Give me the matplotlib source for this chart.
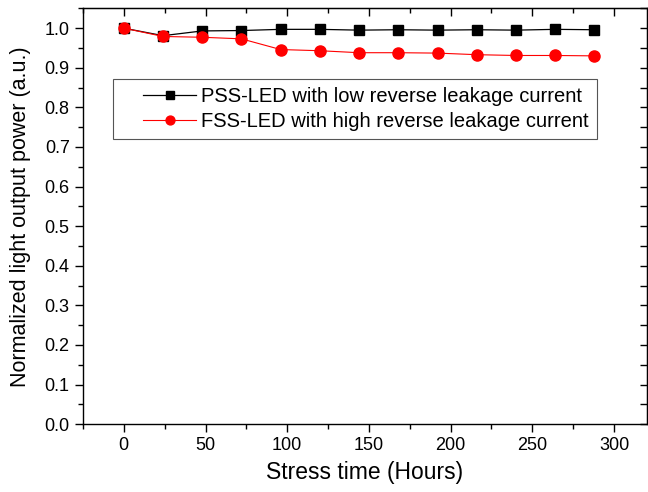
import numpy as np
import matplotlib.pyplot as plt
from matplotlib.ticker import MultipleLocator
from matplotlib.lines import Line2D
from matplotlib.legend_handler import HandlerLine2D

plt.rcParams['font.family'] = ['Liberation Sans', 'DejaVu Sans']

# Datos
horas = [0, 24, 48, 72, 96, 120, 144, 168, 192, 216, 240, 264, 288]
pss_led = [1.0, 0.981, 0.993, 0.994, 0.997, 0.997, 0.995, 0.996, 0.995, 0.996, 0.995, 0.997, 0.996]
fss_led = [1.0, 0.979, 0.977, 0.973, 0.946, 0.943, 0.938, 0.938, 0.937, 0.933, 0.931, 0.931, 0.930]
etiqueta_pss = 'PSS-LED with low reverse leakage current'
etiqueta_fss = 'FSS-LED with high reverse leakage current'

fig = plt.figure(figsize=(6.48, 4.92), dpi=100)
ax = fig.add_axes([0.128, 0.138, 0.870, 0.845])

ax.plot(horas, pss_led, color='black', linewidth=0.9, marker='s', markersize=7,
        label=etiqueta_pss)
ax.plot(horas, fss_led, color='red', linewidth=0.8, marker='o', markersize=8,
        label=etiqueta_fss)

ax.set_xlim(-25, 320)
ax.set_ylim(0, 1.05)
ax.xaxis.set_major_locator(MultipleLocator(50))
ax.xaxis.set_minor_locator(MultipleLocator(25))
ax.yaxis.set_major_locator(MultipleLocator(0.1))
ax.yaxis.set_minor_locator(MultipleLocator(0.05))
ax.tick_params(which='major', direction='out', length=6, width=1, labelsize=13)
ax.tick_params(which='minor', direction='out', length=3.5, width=1)
ax.set_xticks([0, 50, 100, 150, 200, 250, 300])

# ejes de arriba y derecha solo con marcas hacia dentro
top = ax.secondary_xaxis('top')
top.xaxis.set_major_locator(MultipleLocator(50))
top.xaxis.set_minor_locator(MultipleLocator(25))
top.tick_params(which='major', direction='in', length=6, width=1, labeltop=False)
top.tick_params(which='minor', direction='in', length=3.5, width=1)
right = ax.secondary_yaxis('right')
right.yaxis.set_major_locator(MultipleLocator(0.05))
right.tick_params(which='major', direction='in', length=5, width=1, labelright=False)

for s in ax.spines.values():
    s.set_linewidth(1.0)

ax.set_xlabel('Stress time (Hours)', fontsize=16.5, labelpad=5)
ax.set_ylabel('Normalized light output power (a.u.)', fontsize=15.5, labelpad=10)

# leyenda con la linea un poco desplazada a la derecha
leg = ax.legend(loc='upper left', bbox_to_anchor=(0.053, 0.83), fontsize=14.5,
                fancybox=False, edgecolor='#555555', framealpha=1, borderaxespad=0,
                handlelength=3.75, handletextpad=0.25, borderpad=0.4,
                labelspacing=0.3, markerscale=0.8,
                handler_map={Line2D: HandlerLine2D(xpad=1.1)})
leg.get_frame().set_linewidth(0.8)

plt.savefig('out.png', dpi=100)
plt.close()
